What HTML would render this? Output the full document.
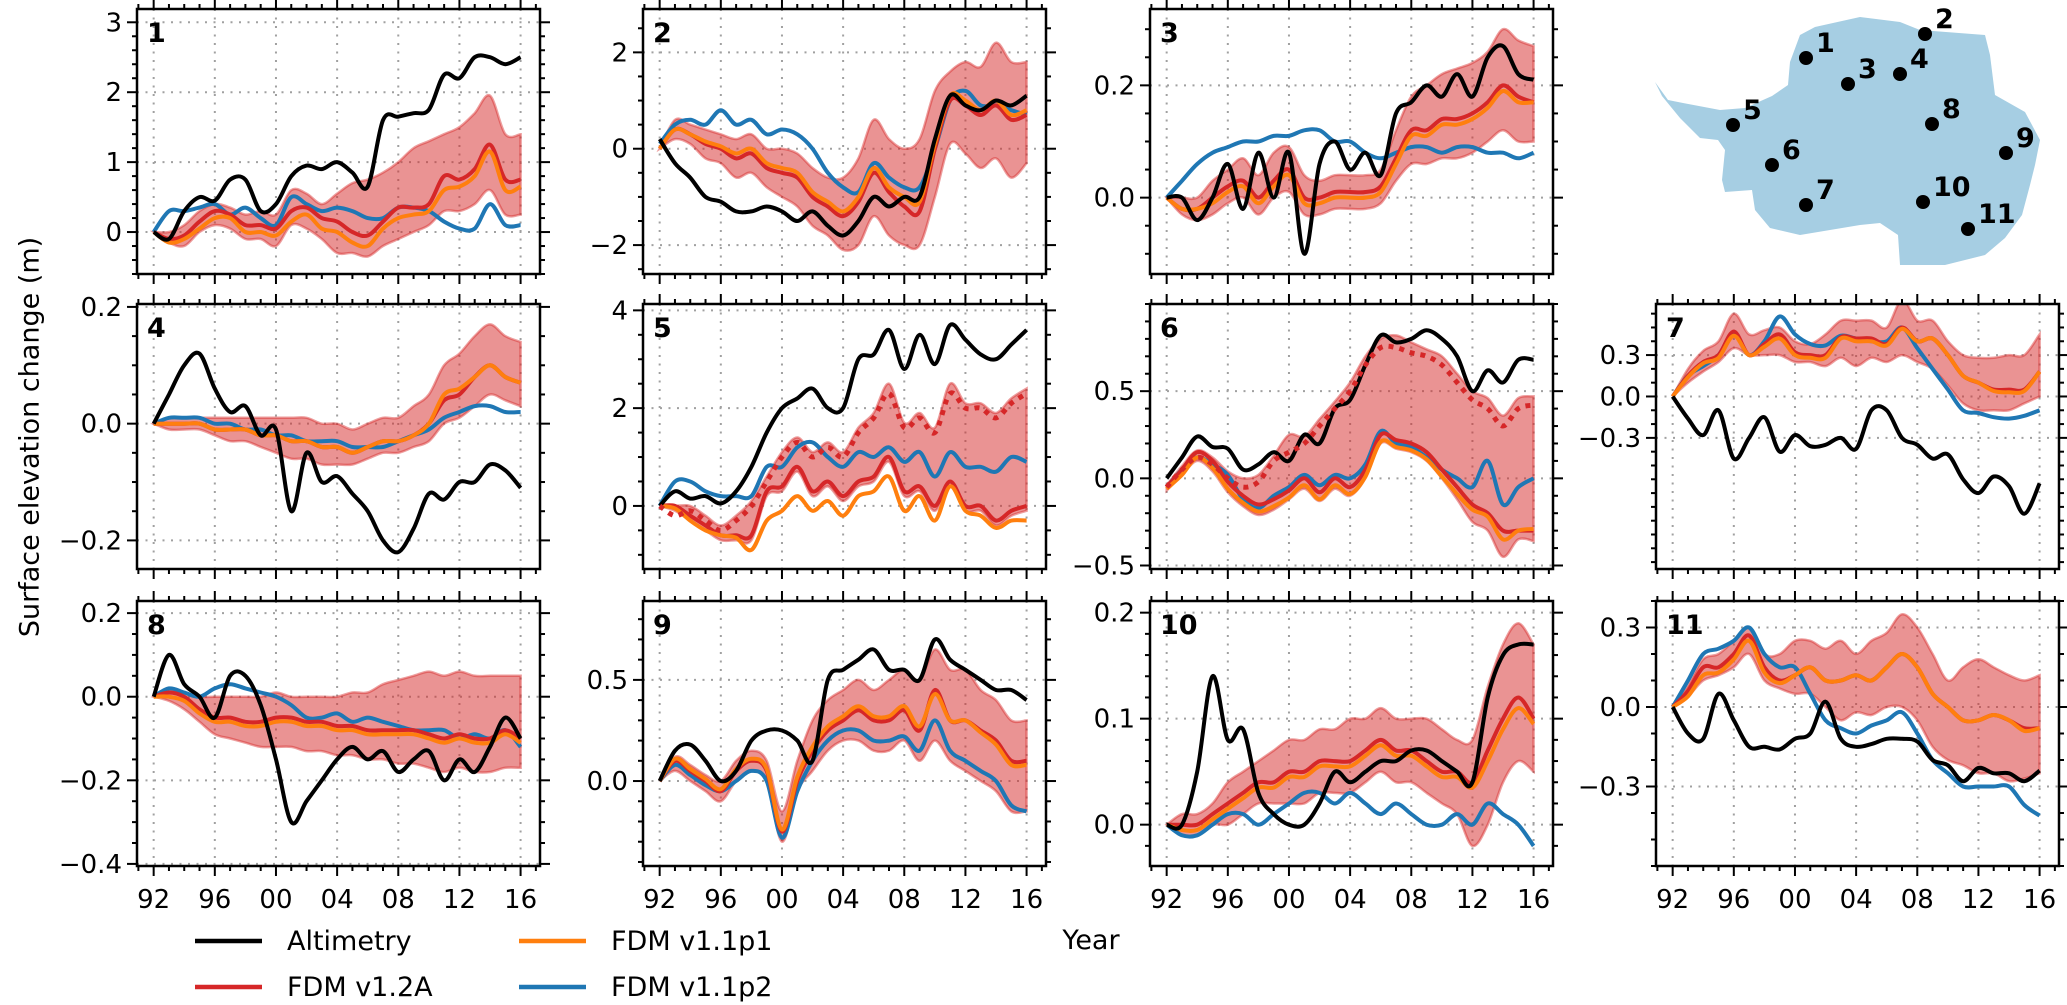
<!DOCTYPE html>
<html><head><meta charset="utf-8"><style>
html,body{margin:0;padding:0;background:#fff;}
svg{display:block;font-family:"DejaVu Sans","Liberation Sans",sans-serif;}
</style></head><body>
<svg id="fig" width="2067" height="1005" viewBox="0 0 2067 1005" xmlns="http://www.w3.org/2000/svg">
<g id="panels"></g>
<g id="map">
<polygon fill="#a6cee3" points="1655,82 1668,100 1683,103 1720,110 1745,108 1772,96 1788,85 1790,62 1800,35 1815,27 1860,17 1900,22 1920,30 1985,35 1990,55 1995,95 2025,112 2040,140 2035,165 2030,185 2022,215 2005,238 1985,255 1945,265 1900,265 1898,235 1880,223 1860,225 1800,235 1770,228 1755,210 1752,190 1725,192 1722,180 1725,150 1718,140 1700,138 1680,118 1662,96"/>
</g>
<text x="0" y="0" transform="translate(30,437) rotate(-90)" text-anchor="middle" dominant-baseline="central" font-size="27">Surface elevation change (m)</text>
<text x="1091" y="949" text-anchor="middle" font-size="27">Year</text>
<g>
<g><line x1="195" y1="941" x2="262" y2="941" stroke="#000" stroke-width="4.5"/><text x="287" y="950" font-size="27">Altimetry</text></g>
<g><line x1="195" y1="987" x2="262" y2="987" stroke="#d62728" stroke-width="4.5"/><text x="287" y="996" font-size="27">FDM v1.2A</text></g>
<g><line x1="519" y1="941" x2="586" y2="941" stroke="#ff7f0e" stroke-width="4.5"/><text x="611" y="950" font-size="27">FDM v1.1p1</text></g>
<g><line x1="519" y1="987" x2="586" y2="987" stroke="#1f77b4" stroke-width="4.5"/><text x="611" y="996" font-size="27">FDM v1.1p2</text></g>
</g>
</svg>
<script>
const years=[1992,1993,1994,1995,1996,1997,1998,1999,2000,2001,2002,2003,2004,2005,2006,2007,2008,2009,2010,2011,2012,2013,2014,2015,2016];
const xTicks=[1992,1996,2000,2004,2008,2012,2016];
const xTickLabels=["92","96","00","04","08","12","16"];

const p1Alt=[0,-0.1,0.3,0.5,0.45,0.75,0.75,0.3,0.4,0.8,0.95,0.9,1.0,0.85,0.65,1.6,1.65,1.7,1.75,2.25,2.2,2.5,2.5,2.4,2.5];
const p1Red=[0,-0.1,-0.05,0.15,0.3,0.25,0.1,0.1,0.05,0.3,0.35,0.2,0.15,0,-0.05,0.15,0.35,0.35,0.4,0.8,0.75,0.9,1.25,0.75,0.75];
const p1Org=[0,-0.15,-0.1,0.05,0.2,0.2,0,0,-0.05,0.15,0.25,0.05,0,-0.15,-0.2,0.05,0.2,0.25,0.3,0.6,0.65,0.8,1.15,0.6,0.65];
const p1Blu=[0,0.3,0.3,0.35,0.4,0.25,0.35,0.2,0.1,0.5,0.4,0.3,0.35,0.3,0.2,0.2,0.35,0.35,0.3,0.15,0.05,0.05,0.4,0.1,0.1];
const p1Hi=[0,0,0.1,0.3,0.4,0.35,0.25,0.3,0.25,0.6,0.55,0.4,0.55,0.7,0.75,0.85,1.0,1.2,1.3,1.4,1.5,1.7,1.95,1.4,1.4];
const p1Lo=[0,-0.15,-0.2,0,0.1,0.05,-0.1,-0.1,-0.2,0.1,0.05,-0.1,-0.3,-0.3,-0.35,-0.2,-0.1,0,0.1,0.3,0.3,0.4,0.6,0.25,0.25];
const p1Ticks=[0,1,2,3];const p1Labels=["0","1","2","3"];

const p2Alt=[0.2,-0.3,-0.6,-1.0,-1.1,-1.3,-1.3,-1.2,-1.3,-1.5,-1.3,-1.6,-1.8,-1.5,-1.0,-1.2,-1.0,-1.0,0.2,1.1,0.9,0.8,1.0,0.9,1.1];
const p2Red=[0,0.4,0.3,0.1,0,-0.2,-0.1,-0.4,-0.5,-0.6,-1.0,-1.2,-1.4,-1.1,-0.5,-0.9,-1.2,-1.3,0.0,1.0,0.9,0.7,0.9,0.6,0.7];
const p2Org=[0,0.4,0.3,0.15,0.05,-0.1,0,-0.3,-0.4,-0.5,-0.9,-1.1,-1.3,-1.0,-0.4,-0.8,-1.0,-1.1,0.1,1.1,1.0,0.8,1.0,0.7,0.8];
const p2Blu=[0.1,0.5,0.6,0.5,0.8,0.5,0.6,0.3,0.4,0.3,0.0,-0.5,-0.8,-0.9,-0.3,-0.6,-0.8,-0.8,0.0,1.0,1.2,0.9,0.9,0.8,0.7];
const p2Hi=[0,0.6,0.5,0.4,0.3,0.2,0.3,0,0,-0.1,-0.4,-0.6,-0.6,-0.2,0.6,0.2,0,0.2,1.2,1.6,1.8,1.7,2.2,1.8,1.8];
const p2Lo=[0,0.2,0.1,-0.2,-0.3,-0.6,-0.5,-0.8,-1.0,-1.2,-1.6,-1.8,-2.1,-2.0,-1.4,-1.8,-2.0,-2.0,-1.0,0.1,-0.1,-0.4,-0.2,-0.6,-0.3];
const p2Ticks=[-2,0,2];const p2Labels=["\u22122","0","2"];

const p3Alt=[0,0,-0.04,0,0.06,-0.02,0.08,0,0.08,-0.1,0.06,0.1,0.05,0.08,0.04,0.15,0.17,0.2,0.18,0.22,0.18,0.25,0.27,0.22,0.21];
const p3Red=[0,-0.02,-0.02,0,0.02,0.03,0,0.03,0.05,0,0,0.01,0.01,0.01,0.02,0.07,0.12,0.12,0.14,0.14,0.15,0.17,0.2,0.18,0.17];
const p3Org=[0,-0.02,-0.02,-0.01,0.01,0.02,-0.01,0.02,0.04,-0.01,-0.01,0,0,0,0.01,0.06,0.11,0.11,0.13,0.13,0.14,0.16,0.19,0.17,0.17];
const p3Blu=[0,0.03,0.06,0.08,0.09,0.1,0.1,0.11,0.11,0.12,0.12,0.1,0.1,0.08,0.07,0.08,0.09,0.09,0.08,0.09,0.09,0.08,0.08,0.07,0.08];
const p3Hi=[0,0,0,0.03,0.05,0.07,0.04,0.08,0.09,0.04,0.03,0.04,0.04,0.04,0.05,0.12,0.18,0.2,0.22,0.23,0.24,0.26,0.3,0.28,0.27];
const p3Lo=[0,-0.03,-0.04,-0.03,-0.01,0,-0.03,0,0.01,-0.03,-0.03,-0.02,-0.02,-0.02,-0.01,0.03,0.06,0.06,0.07,0.07,0.08,0.1,0.12,0.1,0.1];
const p3Ticks=[0,0.2];const p3Labels=["0.0","0.2"];

const p4Alt=[0,0.05,0.1,0.12,0.06,0.02,0.03,-0.02,-0.01,-0.15,-0.05,-0.1,-0.09,-0.12,-0.15,-0.2,-0.22,-0.18,-0.12,-0.13,-0.1,-0.1,-0.07,-0.08,-0.11];
const p4Red=[0,0,0,0,-0.01,-0.01,-0.01,-0.02,-0.02,-0.03,-0.03,-0.04,-0.04,-0.05,-0.04,-0.03,-0.03,-0.02,0,0.04,0.05,0.08,0.1,0.08,0.07];
const p4Org=[0,0,0,0,-0.01,-0.01,-0.01,-0.02,-0.02,-0.03,-0.03,-0.04,-0.04,-0.05,-0.04,-0.03,-0.03,-0.02,0,0.05,0.06,0.08,0.1,0.08,0.07];
const p4Blu=[0,0.01,0.01,0.01,0,0,-0.01,-0.01,-0.02,-0.02,-0.03,-0.03,-0.03,-0.04,-0.04,-0.04,-0.03,-0.02,-0.01,0.01,0.02,0.03,0.03,0.02,0.02];
const p4Hi=[0,0.01,0.01,0.01,0.01,0.01,0.01,0.01,0.01,0.01,0.01,0,0,-0.01,0,0.01,0.01,0.03,0.05,0.1,0.12,0.15,0.17,0.15,0.14];
const p4Lo=[0,-0.01,-0.01,-0.01,-0.02,-0.03,-0.03,-0.04,-0.05,-0.06,-0.06,-0.07,-0.07,-0.07,-0.06,-0.05,-0.05,-0.04,-0.03,0,0.01,0.03,0.05,0.04,0.03];
const p4Ticks=[-0.2,0,0.2];const p4Labels=["\u22120.2","0.0","0.2"];

const p5Alt=[0,0.3,0.15,0.2,0.05,0.3,0.8,1.5,2.0,2.2,2.4,2.0,2.0,3.0,3.1,3.6,2.8,3.5,2.9,3.7,3.4,3.1,3.0,3.3,3.6];
const p5Red=[0,0,-0.2,-0.4,-0.6,-0.6,-0.6,0.3,0.4,0.8,0.3,0.5,0.2,0.5,0.6,1.0,0.3,0.4,0,0.5,0,0,-0.3,-0.1,0];
const p5Org=[0,-0.05,-0.3,-0.5,-0.6,-0.65,-0.9,-0.3,-0.1,0.2,-0.1,0.1,-0.2,0.2,0.3,0.6,-0.1,0.2,-0.3,0.4,-0.1,-0.2,-0.45,-0.3,-0.3];
const p5Blu=[0,0.5,0.5,0.3,0.2,0.2,0.2,0.8,0.8,1.2,1.3,1.0,0.8,1.1,1.0,1.2,0.9,1.1,0.6,1.1,0.8,0.8,0.7,1.0,0.9];
const p5Dot=[0,-0.2,-0.1,-0.3,-0.5,-0.3,0,0.5,1.0,1.3,1.0,1.2,1.0,1.5,1.8,2.3,1.6,1.8,1.5,2.3,2.0,2.0,1.8,2.1,2.3];
const p5Hi=[0,0,0,-0.2,-0.4,-0.2,0.1,0.6,1.1,1.4,1.1,1.3,1.1,1.6,1.9,2.5,1.7,1.9,1.6,2.5,2.1,2.1,1.9,2.2,2.4];
const p5Lo=[0,-0.1,-0.3,-0.5,-0.7,-0.7,-0.7,0.2,0.3,0.7,0.2,0.4,0.1,0.4,0.5,0.9,0.2,0.3,-0.1,0.4,-0.1,-0.1,-0.4,-0.2,-0.1];
const p5Ticks=[0,2,4];const p5Labels=["0","2","4"];

const p6Alt=[0,0.12,0.24,0.18,0.17,0.05,0.08,0.15,0.1,0.25,0.2,0.4,0.45,0.65,0.82,0.78,0.8,0.85,0.8,0.7,0.5,0.62,0.55,0.68,0.68];
const p6Red=[-0.05,0.05,0.15,0.1,-0.02,-0.1,-0.15,-0.12,-0.07,0,-0.08,0,-0.05,0.05,0.25,0.22,0.2,0.15,0.05,-0.05,-0.15,-0.2,-0.3,-0.3,-0.3];
const p6Org=[-0.06,0.02,0.12,0.06,-0.06,-0.14,-0.19,-0.16,-0.11,-0.04,-0.12,-0.04,-0.09,0.01,0.21,0.18,0.16,0.11,0.01,-0.09,-0.18,-0.22,-0.35,-0.3,-0.29];
const p6Blu=[-0.05,0.05,0.12,0.08,0.02,-0.12,-0.17,-0.1,-0.05,0.02,-0.04,0.02,0.0,0.08,0.27,0.2,0.18,0.12,0.05,0.0,-0.05,0.1,-0.15,-0.05,0.0];
const p6Dot=[-0.05,0.05,0.12,0.08,0,-0.05,-0.02,0.1,0.15,0.2,0.3,0.4,0.5,0.65,0.75,0.75,0.72,0.7,0.65,0.55,0.45,0.4,0.3,0.4,0.42];
const p6Hi=[-0.04,0.07,0.16,0.12,0.04,0,0.02,0.13,0.25,0.24,0.34,0.44,0.55,0.7,0.8,0.82,0.78,0.74,0.7,0.6,0.5,0.46,0.36,0.46,0.47];
const p6Lo=[-0.07,0.02,0.1,0.04,-0.08,-0.16,-0.21,-0.18,-0.12,-0.06,-0.13,-0.06,-0.1,0,0.2,0.17,0.15,0.1,0,-0.12,-0.25,-0.3,-0.45,-0.35,-0.36];
const p6Ticks=[-0.5,0,0.5];const p6Labels=["\u22120.5","0.0","0.5"];

const p7Alt=[0,-0.16,-0.28,-0.1,-0.45,-0.3,-0.15,-0.4,-0.28,-0.36,-0.35,-0.3,-0.38,-0.1,-0.1,-0.3,-0.35,-0.45,-0.42,-0.6,-0.7,-0.58,-0.65,-0.85,-0.63];
const p7Red=[0,0.15,0.25,0.3,0.47,0.3,0.38,0.45,0.32,0.3,0.3,0.43,0.42,0.42,0.38,0.5,0.4,0.42,0.3,0.15,0.1,0.05,0.05,0.05,0.18];
const p7Org=[0,0.14,0.24,0.28,0.44,0.3,0.36,0.42,0.3,0.28,0.28,0.42,0.4,0.4,0.37,0.49,0.4,0.42,0.3,0.15,0.1,0.04,0.03,0.04,0.18];
const p7Blu=[0,0.15,0.22,0.3,0.45,0.3,0.4,0.58,0.45,0.38,0.37,0.44,0.42,0.4,0.4,0.5,0.35,0.2,0.05,-0.1,-0.12,-0.15,-0.16,-0.14,-0.1];
const p7Hi=[0,0.2,0.33,0.4,0.6,0.45,0.48,0.5,0.4,0.38,0.45,0.55,0.55,0.55,0.5,0.7,0.55,0.55,0.4,0.3,0.28,0.28,0.3,0.3,0.45];
const p7Lo=[0,0.1,0.18,0.25,0.35,0.3,0.3,0.3,0.25,0.25,0.22,0.28,0.22,0.28,0.25,0.3,0.25,0.2,0.08,-0.05,-0.1,-0.1,-0.1,-0.05,0];
const p7Ticks=[-0.3,0,0.3];const p7Labels=["\u22120.3","0.0","0.3"];

const p8Alt=[0,0.1,0.03,0,-0.05,0.05,0.05,-0.02,-0.15,-0.3,-0.25,-0.2,-0.15,-0.12,-0.15,-0.13,-0.18,-0.15,-0.13,-0.2,-0.15,-0.18,-0.12,-0.05,-0.1];
const p8Red=[0,0.01,0,-0.03,-0.05,-0.05,-0.06,-0.06,-0.05,-0.05,-0.06,-0.06,-0.07,-0.07,-0.08,-0.08,-0.08,-0.08,-0.09,-0.1,-0.09,-0.1,-0.1,-0.08,-0.1];
const p8Org=[0,0,-0.01,-0.04,-0.06,-0.06,-0.07,-0.07,-0.06,-0.06,-0.07,-0.07,-0.08,-0.08,-0.09,-0.09,-0.09,-0.09,-0.1,-0.11,-0.1,-0.11,-0.11,-0.09,-0.11];
const p8Blu=[0,0.02,0.01,0,0.02,0.03,0.02,0.01,0,-0.02,-0.05,-0.05,-0.04,-0.06,-0.05,-0.06,-0.07,-0.08,-0.08,-0.08,-0.1,-0.09,-0.1,-0.08,-0.12];
const p8Hi=[0,0.02,0.01,0,0,0,0,0,0.01,0,0,0,0,0.01,0.01,0.03,0.04,0.05,0.06,0.05,0.06,0.05,0.05,0.05,0.05];
const p8Lo=[0,-0.01,-0.03,-0.06,-0.09,-0.1,-0.11,-0.12,-0.12,-0.12,-0.13,-0.13,-0.14,-0.14,-0.15,-0.15,-0.16,-0.16,-0.17,-0.18,-0.17,-0.18,-0.18,-0.17,-0.17];
const p8Ticks=[-0.4,-0.2,0,0.2];const p8Labels=["\u22120.4","\u22120.2","0.0","0.2"];

const p9Alt=[0,0.15,0.18,0.1,0,0.05,0.2,0.25,0.25,0.2,0.1,0.5,0.55,0.6,0.65,0.55,0.55,0.5,0.7,0.6,0.55,0.5,0.45,0.45,0.4];
const p9Red=[0,0.1,0.05,0,-0.05,0.05,0.1,0.05,-0.25,0,0.15,0.25,0.3,0.35,0.3,0.3,0.35,0.25,0.45,0.3,0.3,0.25,0.2,0.1,0.1];
const p9Org=[0,0.11,0.06,0.01,-0.04,0.06,0.11,0.06,-0.24,0.02,0.17,0.27,0.32,0.37,0.32,0.32,0.37,0.27,0.43,0.3,0.3,0.24,0.18,0.08,0.08];
const p9Blu=[0,0.08,0.03,-0.02,-0.05,0,0.05,0,-0.28,-0.05,0.1,0.2,0.25,0.25,0.2,0.2,0.22,0.15,0.3,0.15,0.1,0.05,0,-0.12,-0.15];
const p9Hi=[0,0.12,0.08,0.03,0,0.1,0.15,0.1,-0.15,0.1,0.3,0.4,0.45,0.5,0.45,0.5,0.55,0.5,0.65,0.55,0.55,0.45,0.4,0.3,0.3];
const p9Lo=[0,0.05,0,-0.05,-0.1,0,0.05,0,-0.3,-0.05,0.05,0.15,0.2,0.2,0.15,0.15,0.2,0.1,0.2,0.1,0.05,0,-0.05,-0.15,-0.15];
const p9Ticks=[0,0.5];const p9Labels=["0.0","0.5"];

const p10Alt=[0,0,0.05,0.14,0.08,0.09,0.03,0.01,0,0,0.02,0.05,0.04,0.05,0.06,0.06,0.07,0.07,0.06,0.05,0.04,0.12,0.16,0.17,0.17];
const p10Red=[0,0,0,0.01,0.02,0.03,0.04,0.04,0.05,0.05,0.06,0.06,0.06,0.07,0.08,0.07,0.07,0.06,0.05,0.05,0.04,0.07,0.1,0.12,0.1];
const p10Org=[0,-0.005,-0.005,0.005,0.015,0.025,0.035,0.035,0.045,0.045,0.055,0.055,0.055,0.065,0.075,0.065,0.065,0.055,0.045,0.045,0.035,0.06,0.09,0.11,0.095];
const p10Blu=[0,-0.01,-0.01,0,0.01,0.01,0,0.01,0.02,0.03,0.03,0.02,0.03,0.02,0.01,0.02,0.01,0,0,0.01,0,0.02,0.01,0,-0.02];
const p10Hi=[0,0.01,0.01,0.02,0.04,0.05,0.06,0.07,0.08,0.08,0.09,0.09,0.1,0.1,0.11,0.1,0.1,0.1,0.09,0.08,0.08,0.13,0.17,0.19,0.17];
const p10Lo=[0,-0.01,-0.01,0,0,0.01,0.02,0.02,0.02,0.02,0.03,0.03,0.03,0.04,0.05,0.04,0.04,0.03,0.02,0.01,-0.02,0,0.04,0.06,0.05];
const p10Ticks=[0,0.1,0.2];const p10Labels=["0.0","0.1","0.2"];

const p11Alt=[0,-0.1,-0.12,0.05,-0.05,-0.15,-0.15,-0.16,-0.12,-0.1,0.02,-0.12,-0.15,-0.14,-0.12,-0.12,-0.13,-0.2,-0.22,-0.28,-0.23,-0.25,-0.25,-0.28,-0.24];
const p11Red=[0,0.06,0.15,0.15,0.2,0.27,0.15,0.1,0.12,0.15,0.1,0.1,0.12,0.1,0.15,0.2,0.15,0.05,0,-0.05,-0.05,-0.03,-0.05,-0.08,-0.08];
const p11Org=[0,0.04,0.12,0.13,0.18,0.25,0.13,0.09,0.12,0.15,0.1,0.1,0.12,0.1,0.15,0.2,0.15,0.05,0,-0.05,-0.05,-0.03,-0.05,-0.09,-0.08];
const p11Blu=[0,0.1,0.2,0.22,0.25,0.3,0.2,0.15,0.15,0.05,-0.05,-0.08,-0.1,-0.07,-0.05,-0.02,-0.1,-0.2,-0.25,-0.3,-0.3,-0.3,-0.3,-0.37,-0.41];
const p11Hi=[0,0.08,0.18,0.2,0.25,0.3,0.2,0.2,0.25,0.25,0.22,0.25,0.2,0.25,0.28,0.35,0.3,0.2,0.1,0.15,0.18,0.15,0.12,0.1,0.12];
const p11Lo=[0,0.04,0.1,0.12,0.15,0.2,0.1,0.07,0.05,0.05,0,-0.05,-0.02,-0.03,0,0,-0.05,-0.15,-0.2,-0.22,-0.25,-0.25,-0.28,-0.27,-0.25];
const p11Ticks=[-0.3,0,0.3];const p11Labels=["\u22120.3","0.0","0.3"];

const NS="http://www.w3.org/2000/svg";
const colX=[137,643,1150,1656];
const rowY=[9,304,601];
const PW=403, PH=265;
const XMIN=1990.91, XMAX=2017.27;

const panels=[
 {n:"1",c:0,r:0,ymin:-0.6,ymax:3.19,minor:0.2,alt:p1Alt,red:p1Red,org:p1Org,blu:p1Blu,hi:p1Hi,lo:p1Lo,ticks:p1Ticks,labels:p1Labels},
 {n:"2",c:1,r:0,ymin:-2.6,ymax:2.9,minor:0.5,alt:p2Alt,red:p2Red,org:p2Org,blu:p2Blu,hi:p2Hi,lo:p2Lo,ticks:p2Ticks,labels:p2Labels},
 {n:"3",c:2,r:0,ymin:-0.136,ymax:0.336,minor:0.05,alt:p3Alt,red:p3Red,org:p3Org,blu:p3Blu,hi:p3Hi,lo:p3Lo,ticks:p3Ticks,labels:p3Labels},
 {n:"4",c:0,r:1,ymin:-0.249,ymax:0.205,minor:0.05,alt:p4Alt,red:p4Red,org:p4Org,blu:p4Blu,hi:p4Hi,lo:p4Lo,ticks:p4Ticks,labels:p4Labels},
 {n:"5",c:1,r:1,ymin:-1.29,ymax:4.13,minor:0.5,alt:p5Alt,red:p5Red,org:p5Org,blu:p5Blu,hi:p5Hi,lo:p5Lo,dot:p5Dot,ticks:p5Ticks,labels:p5Labels},
 {n:"6",c:2,r:1,ymin:-0.52,ymax:1.0,minor:0.1,alt:p6Alt,red:p6Red,org:p6Org,blu:p6Blu,hi:p6Hi,lo:p6Lo,dot:p6Dot,ticks:p6Ticks,labels:p6Labels},
 {n:"7",c:3,r:1,ymin:-1.25,ymax:0.67,minor:0.1,alt:p7Alt,red:p7Red,org:p7Org,blu:p7Blu,hi:p7Hi,lo:p7Lo,ticks:p7Ticks,labels:p7Labels},
 {n:"8",c:0,r:2,ymin:-0.405,ymax:0.229,minor:0.05,alt:p8Alt,red:p8Red,org:p8Org,blu:p8Blu,hi:p8Hi,lo:p8Lo,ticks:p8Ticks,labels:p8Labels},
 {n:"9",c:1,r:2,ymin:-0.42,ymax:0.89,minor:0.1,alt:p9Alt,red:p9Red,org:p9Org,blu:p9Blu,hi:p9Hi,lo:p9Lo,ticks:p9Ticks,labels:p9Labels},
 {n:"10",c:2,r:2,ymin:-0.039,ymax:0.211,minor:0.02,alt:p10Alt,red:p10Red,org:p10Org,blu:p10Blu,hi:p10Hi,lo:p10Lo,ticks:p10Ticks,labels:p10Labels},
 {n:"11",c:3,r:2,ymin:-0.6,ymax:0.4,minor:0.1,alt:p11Alt,red:p11Red,org:p11Org,blu:p11Blu,hi:p11Hi,lo:p11Lo,ticks:p11Ticks,labels:p11Labels}
];

function el(tag,attrs,parent){const e=document.createElementNS(NS,tag);for(const k in attrs)e.setAttribute(k,attrs[k]);parent.appendChild(e);return e;}
function smooth(pts){
 let d="M"+pts[0][0].toFixed(1)+","+pts[0][1].toFixed(1);
 for(let i=0;i<pts.length-1;i++){
  const p0=pts[Math.max(i-1,0)],p1=pts[i],p2=pts[i+1],p3=pts[Math.min(i+2,pts.length-1)];
  const c1=[p1[0]+(p2[0]-p0[0])/6,p1[1]+(p2[1]-p0[1])/6];
  const c2=[p2[0]-(p3[0]-p1[0])/6,p2[1]-(p3[1]-p1[1])/6];
  d+="C"+c1[0].toFixed(1)+","+c1[1].toFixed(1)+" "+c2[0].toFixed(1)+","+c2[1].toFixed(1)+" "+p2[0].toFixed(1)+","+p2[1].toFixed(1);
 }
 return d;
}
const root=document.getElementById("panels");
panels.forEach(p=>{
 const x0=colX[p.c], y0=rowY[p.r];
 const sx=v=>x0+(v-XMIN)/(XMAX-XMIN)*PW;
 const sy=v=>y0+PH-(v-p.ymin)/(p.ymax-p.ymin)*PH;
 const g=el("g",{},root);
 
 
 const cid="clip"+p.n;
 const cp=el("clipPath",{id:cid},g);el("rect",{x:x0,y:y0,width:PW,height:PH},cp);
 // grid
 const grid=el("g",{stroke:"#a0a0a0","stroke-width":2,"stroke-dasharray":"2,6.5"},g);
 
 
 xTicks.forEach(t=>el("line",{x1:sx(t),x2:sx(t),y1:y0,y2:y0+PH},grid));
 p.ticks.forEach(t=>el("line",{x1:x0,x2:x0+PW,y1:sy(t),y2:sy(t)},grid));
 const plot=el("g",{"clip-path":"url(#"+cid+")"},g);
 // band
 const up=years.map((y,i)=>[sx(y),sy(p.hi[i])]);
 const dn=years.map((y,i)=>[sx(y),sy(p.lo[i])]).reverse();
 const bd=smooth(up)+"L"+smooth(dn).slice(1)+"Z";
 const band=el("path",{d:bd,fill:"#d62728","fill-opacity":0.5,stroke:"#d62728","stroke-opacity":0.45,"stroke-width":2.5},plot);
 
 
 const series=[["blu","#1f77b4","fdm-v11p2"],["red","#d62728","fdm-v12a"],["org","#ff7f0e","fdm-v11p1"],["alt","#000000","altimetry"]];
 series.forEach(s=>{
  const pts=years.map((y,i)=>[sx(y),sy(p[s[0]][i])]);
  const ln=el("path",{d:smooth(pts),fill:"none",stroke:s[1],"stroke-width":4,"stroke-linejoin":"round"},plot);
  
  
 });
 if(p.dot){
  const pts=years.map((y,i)=>[sx(y),sy(p.dot[i])]);
  const dl=el("path",{d:smooth(pts),fill:"none",stroke:"#d62728","stroke-width":5,"stroke-dasharray":"5,6"},plot);
  
  
 }
 // frame
 const fr=el("rect",{x:x0,y:y0,width:PW,height:PH,fill:"none",stroke:"#000","stroke-width":2.5},g);
 
 
 // ticks
 const tk=el("g",{stroke:"#000","stroke-width":2},g);
 
 
 for(let yr=1991;yr<=2017;yr++){
  const L=(yr%4===0)?10:5, X=sx(yr);
  el("line",{x1:X,x2:X,y1:y0+PH,y2:y0+PH+L},tk);
  el("line",{x1:X,x2:X,y1:y0,y2:y0-L},tk);
 }
 const k0=Math.ceil(p.ymin/p.minor-1e-6), k1=Math.floor(p.ymax/p.minor+1e-6);
 for(let k=k0;k<=k1;k++){
  const v=k*p.minor;
  const major=p.ticks.some(t=>Math.abs(t-v)<1e-6);
  const L=major?10:5, Y=sy(v);
  el("line",{x1:x0,x2:x0-L,y1:Y,y2:Y},tk);
  el("line",{x1:x0+PW,x2:x0+PW+L,y1:Y,y2:Y},tk);
 }
 p.ticks.forEach((t,i)=>{
  const tl=el("text",{x:x0-15,y:sy(t)+9,"text-anchor":"end","font-size":26},g);
  tl.textContent=p.labels[i];
  
  
 });
 if(p.r===2){
  xTicks.forEach((t,i)=>{
   const tl=el("text",{x:sx(t),y:908,"text-anchor":"middle","font-size":26},g);
   tl.textContent=xTickLabels[i];
   
   
  });
 }
 const nl=el("text",{x:x0+10,y:y0+33,"font-size":27,"font-weight":"bold"},g);
 nl.textContent=p.n;
 
 
});

// map sites
const siteNames=["1","2","3","4","5","6","7","8","9","10","11"];
const siteX=[1806,1925,1848,1900,1733,1772,1806,1932,2006,1923,1968];
const siteY=[58,34,84,74,125,165,205,124,153,202,229];
const mapG=document.getElementById("map");
siteNames.forEach((s,i)=>{
 const c=el("circle",{cx:siteX[i],cy:siteY[i],r:7,fill:"#000"},mapG);
 
 
 const t=el("text",{x:siteX[i]+10,y:siteY[i]-6,"font-size":27,"font-weight":"bold"},mapG);
 t.textContent=s;
 
 
});
</script>
</body></html>
